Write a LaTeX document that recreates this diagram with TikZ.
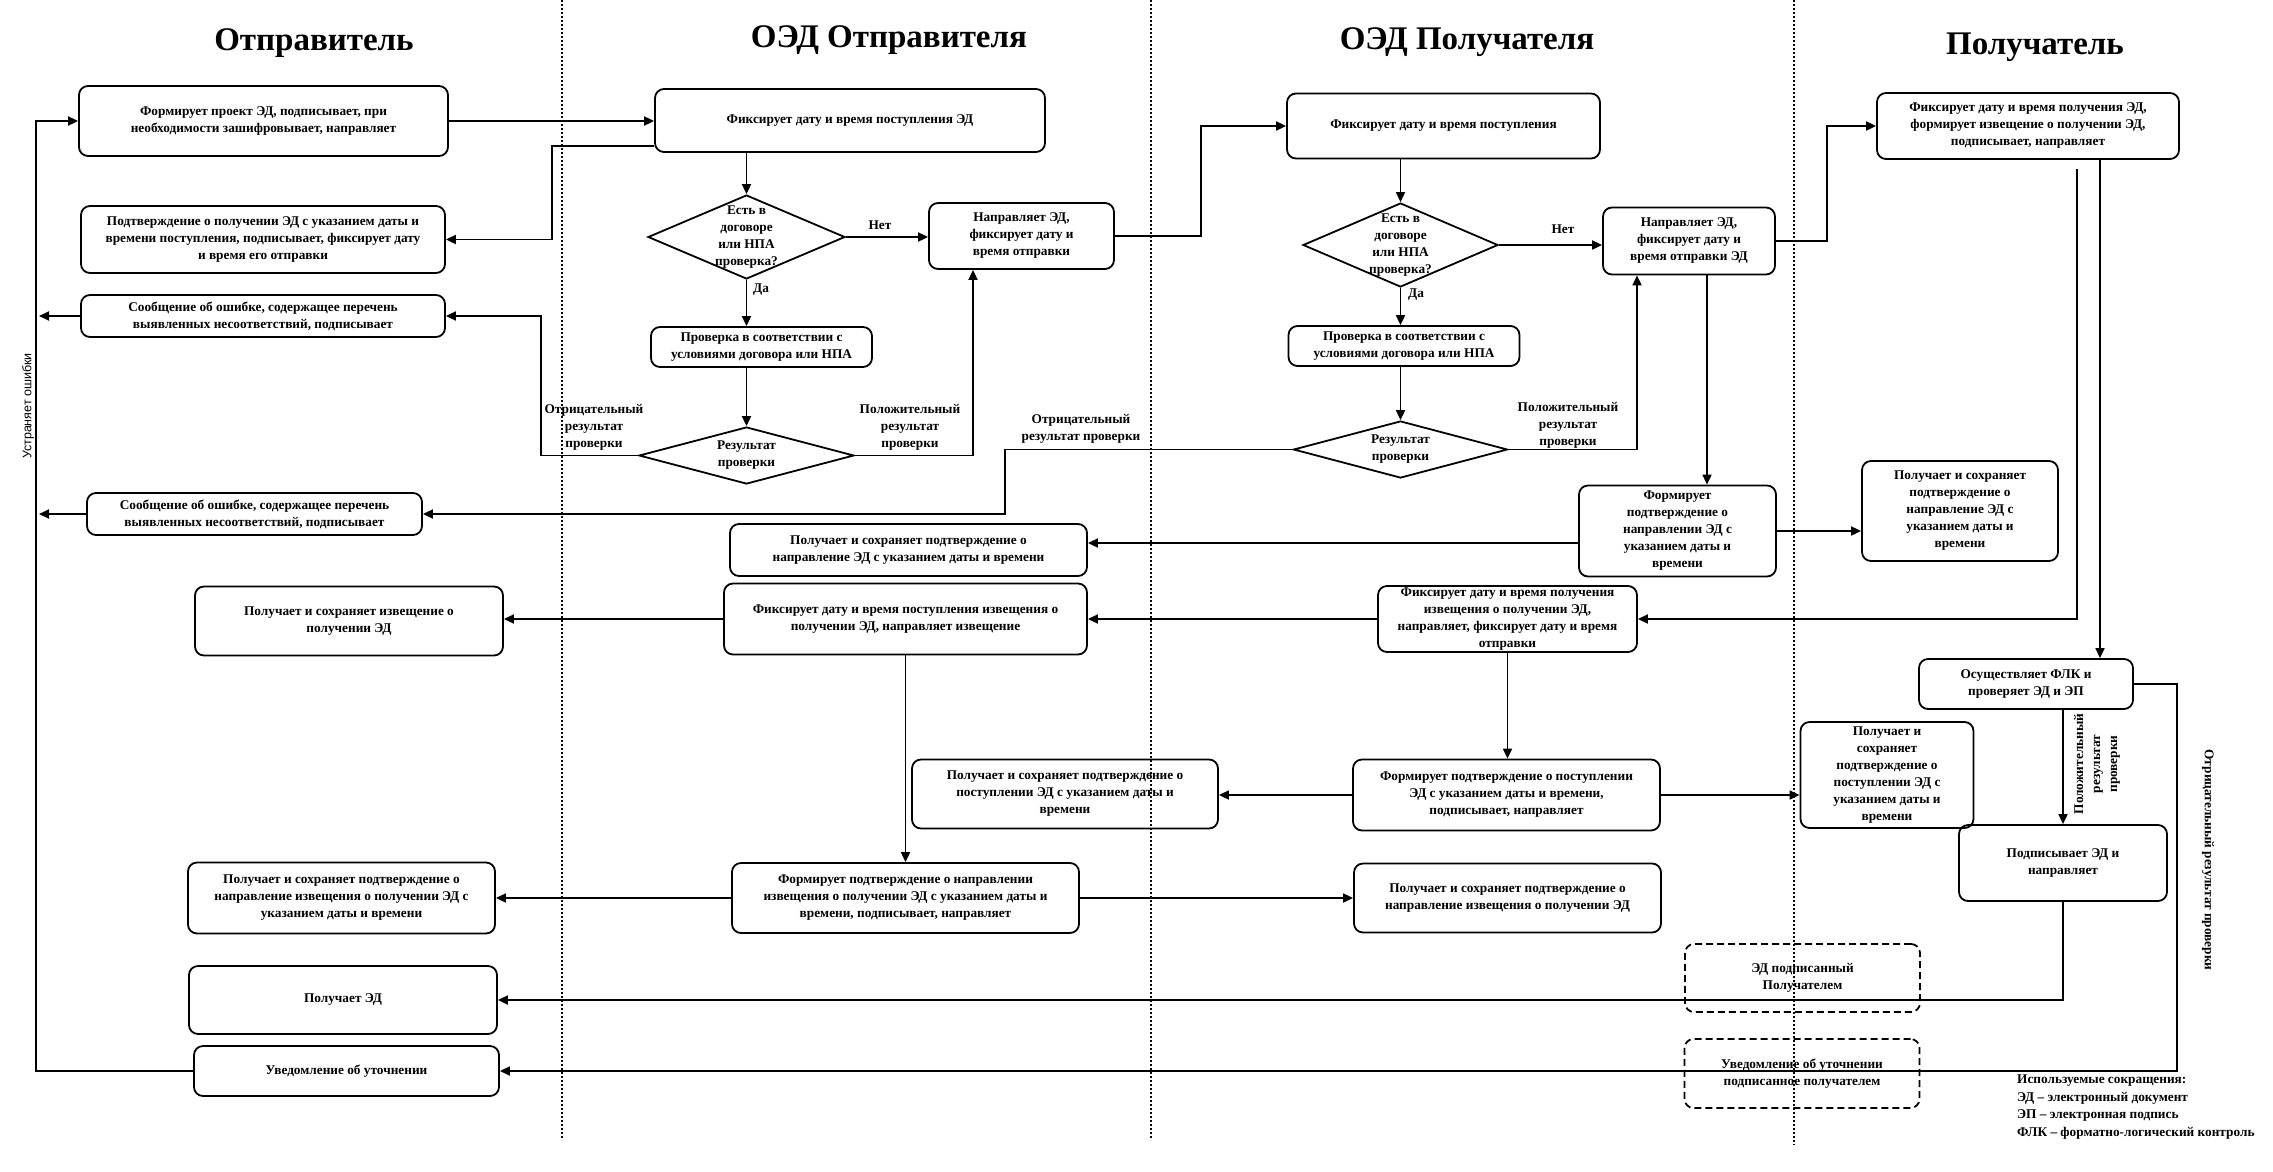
\documentclass[tikz,border=0pt]{standalone}
\usepackage{fontspec}
\setmainfont{Liberation Serif}
\newfontfamily\sansf{Liberation Sans}
\usetikzlibrary{arrows.meta,shapes.geometric,calc}
\begin{document}
\begin{tikzpicture}[x=1pt,y=-1pt,
 box/.style={draw,line width=1.8pt,rounded corners=9pt,align=center,inner sep=1pt,font=\bfseries\fontsize{13.3}{17}\selectfont},
 dbox/.style={box,dash pattern=on 7pt off 4pt},
 dia/.style={draw,diamond,line width=1.8pt,inner sep=0pt},
 ttl/.style={font=\bfseries\fontsize{33}{38}\selectfont},
 lbl/.style={align=center,inner sep=0pt,font=\bfseries\fontsize{13.3}{17}\selectfont},
 arr/.style={line width=1.8pt,-{Triangle[length=10pt,width=9pt]}},
 lane/.style={line width=1.2pt,dash pattern=on 2pt off 2pt}]
\fill[white] (0,0) rectangle (2273,1171);
\useasboundingbox (0,0) rectangle (2273,1171);
% lanes
\draw[lane] (562,0) -- (562,1140);
\draw[lane] (1151,0) -- (1151,1140);
\draw[lane] (1794,0) -- (1794,1145);
% titles
\node[ttl] (t1) at (314,43) {Отправитель};
\node[ttl] (t2) at (889,40) {ОЭД Отправителя};
\node[ttl] (t3) at (1467,42) {ОЭД Получателя};
\node[ttl] (t4) at (2035,47) {Получатель};
% sender
\node[box,minimum width=369,minimum height=70] (A1) at (263.5,121) {Формирует проект ЭД, подписывает, при\\необходимости зашифровывает, направляет};
\node[box,minimum width=364,minimum height=67] (A2) at (263,239.5) {Подтверждение о получении ЭД с указанием даты и\\времени поступления, подписывает, фиксирует дату\\и время его отправки};
\node[box,minimum width=364,minimum height=42] (A3) at (263,316) {Сообщение об ошибке, содержащее перечень\\выявленных несоответствий, подписывает};
\node[box,minimum width=335,minimum height=42] (A4) at (254.5,514) {Сообщение об ошибке, содержащее перечень\\выявленных несоответствий, подписывает};
\node[box,minimum width=308,minimum height=69] (A5) at (349,621) {Получает и сохраняет извещение о\\получении ЭД};
\node[box,minimum width=307,minimum height=71] (A6) at (341.5,898) {Получает и сохраняет подтверждение о\\направление извещения о получении ЭД с\\указанием даты и времени};
\node[box,minimum width=308,minimum height=68] (A7) at (343,1000) {Получает ЭД};
\node[box,minimum width=305,minimum height=50] (A8) at (346.5,1071) {Уведомление об уточнении};
% OED sender
\node[box,minimum width=390,minimum height=63] (B1) at (850,120.5) {Фиксирует дату и время поступления ЭД};
\node[dia,minimum width=197,minimum height=84,label={[lbl]center:{Есть в\\договоре\\или НПА\\проверка?}}] (D1) at (746.5,237) {};
\node[box,minimum width=185,minimum height=66] (B2) at (1021.5,236) {Направляет ЭД,\\фиксирует дату и\\время отправки};
\node[box,minimum width=221,minimum height=40] (B3) at (761.5,347) {Проверка в соответствии с\\условиями договора или НПА};
\node[dia,minimum width=215,minimum height=57,label={[lbl]center:{Результат\\проверки}}] (D2) at (746.5,455.5) {};
\node[box,minimum width=357,minimum height=52] (B4) at (908.5,550) {Получает и сохраняет подтверждение о\\направление ЭД с указанием даты и времени};
\node[box,minimum width=363,minimum height=71] (B5) at (905.5,619) {Фиксирует дату и время поступления извещения о\\получении ЭД, направляет извещение};
\node[box,minimum width=306,minimum height=69] (B6) at (1065,794) {Получает и сохраняет подтверждение о\\поступлении ЭД с указанием даты и\\времени};
\node[box,minimum width=347,minimum height=70] (B9) at (905.5,898) {Формирует подтверждение о направлении\\извещения о получении ЭД с указанием даты и\\времени, подписывает, направляет};
% OED receiver
\node[box,minimum width=313,minimum height=65] (C1) at (1443.5,126) {Фиксирует дату и время поступления};
\node[dia,minimum width=195,minimum height=84,label={[lbl]center:{Есть в\\договоре\\или НПА\\проверка?}}] (D3) at (1400.5,245) {};
\node[box,minimum width=172,minimum height=67] (C2) at (1689,241) {Направляет ЭД,\\фиксирует дату и\\время отправки ЭД};
\node[box,minimum width=231,minimum height=40] (C3) at (1404,346) {Проверка в соответствии с\\условиями договора или НПА};
\node[dia,minimum width=214,minimum height=57,label={[lbl]center:{Результат\\проверки}}] (D4) at (1400.5,449.5) {};
\node[box,minimum width=197,minimum height=91] (C4) at (1677.5,531) {Формирует\\подтверждение о\\направлении ЭД с\\указанием даты и\\времени};
\node[box,minimum width=259,minimum height=66] (C6) at (1507.5,619) {Фиксирует дату и время получения\\извещения о получении ЭД,\\направляет, фиксирует дату и время\\отправки};
\node[box,minimum width=307,minimum height=71] (C7) at (1506.5,795) {Формирует подтверждение о поступлении\\ЭД с указанием даты и времени,\\подписывает, направляет};
\node[box,minimum width=307,minimum height=69] (C8) at (1507.5,898) {Получает и сохраняет подтверждение о\\направление извещения о получении ЭД};
\node[dbox,minimum width=235,minimum height=68] (E1) at (1802.5,978) {ЭД подписанный\\Получателем};
\node[dbox,minimum width=235,minimum height=69] (E2) at (1802,1073.5) {Уведомление об уточнении\\подписанное получателем};
% receiver
\node[box,minimum width=302,minimum height=66] (R1) at (2028,126) {Фиксирует дату и время получения ЭД,\\формирует извещение о получении ЭД,\\подписывает, направляет};
\node[box,minimum width=196,minimum height=100] (C5) at (1960,511) {Получает и сохраняет\\подтверждение о\\направление ЭД с\\указанием даты и\\времени};
\node[box,minimum width=214,minimum height=50] (R2) at (2026,684) {Осуществляет ФЛК и\\проверяет ЭД и ЭП};
\node[box,minimum width=173,minimum height=106] (R6) at (1887,775) {Получает и\\сохраняет\\подтверждение о\\поступлении ЭД с\\указанием даты и\\времени};
\node[box,minimum width=208,minimum height=76] (R3) at (2063,863) {Подписывает ЭД и\\направляет};
% labels
\node[lbl] (n1) at (880,225) {Нет};
\node[lbl] (y1) at (761,290) {Да};
\node[lbl] (n2) at (1563,229) {Нет};
\node[lbl] (y2) at (1416,295) {Да};
\node[lbl] (neg1) at (594,427) {Отрицательный\\результат\\проверки};
\node[lbl] (pos1) at (910,427) {Положительный\\результат\\проверки};
\node[lbl] (neg2) at (1081,429) {Отрицательный\\результат проверки};
\node[lbl] (pos2) at (1568,425) {Положительный\\результат\\проверки};
\node[lbl,rotate=90] (pos3) at (2097,764) {Положительный\\результат\\проверки};
\node[lbl,rotate=-90] (neg3) at (2208,860) {Отрицательный результат проверки};
\node[rotate=90,inner sep=0pt,font=\sansf\fontsize{12.5}{15}\selectfont] (fix) at (28,406) {Устраняет ошибки};
\node[lbl,align=left,anchor=west,font=\bfseries\fontsize{13.3}{17.5}\selectfont] (leg) at (2017,1107) {Используемые сокращения:\\ЭД – электронный документ\\ЭП – электронная подпись\\ФЛК – форматно-логический контроль};
% helper coordinates
\coordinate (kL) at (36,0);
\coordinate (k1) at (552,146);
\coordinate (k2) at (541,0);
\coordinate (k3) at (973,0);
\coordinate (k4) at (1201,0);
\coordinate (k5) at (1637,0);
\coordinate (k6) at (1005,0);
\coordinate (k7) at (1707,0);
\coordinate (k8) at (1827,0);
\coordinate (k9) at (0,543);
\coordinate (k10) at (2177,0);
\coordinate (r1a) at ($(R1.south)+(49,9)$);
\coordinate (r1b) at ($(R1.south)+(72,0)$);
% connectors
\draw[arr] (A1.east) -- (A1.east -| B1.west);
\draw[arr] (B1.west |- k1) -- (k1) |- (A2.east);
\draw[arr] (B1.south -| D1.north) -- (D1.north);
\draw[arr] (D1.east) -- (D1.east -| B2.west);
\draw[arr] (D1.south) -- (D1.south |- B3.north);
\draw[arr] (D1.south |- B3.south) -- (D2.north);
\draw[arr] (D2.west) -- (D2.west -| k2) -- (k2 |- A3.east) -- (A3.east);
\draw[arr] (D2.east) -- (D2.east -| k3) -- (k3 |- B2.south);
\draw[arr] (B2.east) -- (B2.east -| k4) |- (C1.west);
\draw[arr] (C1.south -| D3.north) -- (D3.north);
\draw[arr] (D3.east) -- (D3.east -| C2.west);
\draw[arr] (D3.south) -- (D3.south |- C3.north);
\draw[arr] (D3.south |- C3.south) -- (D4.north);
\draw[arr] (D4.east) -- (D4.east -| k5) -- (k5 |- C2.south);
\draw[arr] (D4.west) -- (D4.west -| k6) -- (k6 |- A4.east) -- (A4.east);
\draw[arr] (C2.south -| k7) -- (k7 |- C4.north);
\draw[arr] (C2.east) -- (C2.east -| k8) |- (R1.west);
\draw[arr] (r1a) |- (C6.east);
\draw[arr] (r1b) -- (r1b |- R2.north);
\draw[arr] (C4.east) -- (C4.east -| C5.west);
\draw[arr] (C4.west |- k9) -- (B4.east |- k9);
\draw[arr] (C6.west) -- (C6.west -| B5.east);
\draw[arr] (B5.west) -- (B5.west -| A5.east);
\draw[arr] (B5.south) -- (B5.south |- B9.north);
\draw[arr] (C6.south) -- (C6.south |- C7.north);
\draw[arr] (C7.west) -- (C7.west -| B6.east);
\draw[arr] (C7.east) -- (C7.east -| R6.west);
\draw[arr] (B9.west) -- (B9.west -| A6.east);
\draw[arr] (B9.east) -- (B9.east -| C8.west);
\draw[arr] (R3.north |- R2.south) -- (R3.north);
\draw[arr] (R2.east) -- (R2.east -| k10) -- (k10 |- A8.east) -- (A8.east);
\draw[arr] (R3.south) |- (A7.east);
\draw[arr] (A8.west) -- (A8.west -| kL) -- (kL |- A1.west) -- (A1.west);
\draw[arr] (A3.west) -- ([xshift=3pt]A3.west -| kL);
\draw[arr] (A4.west) -- ([xshift=3pt]A4.west -| kL);
\end{tikzpicture}
\end{document}
